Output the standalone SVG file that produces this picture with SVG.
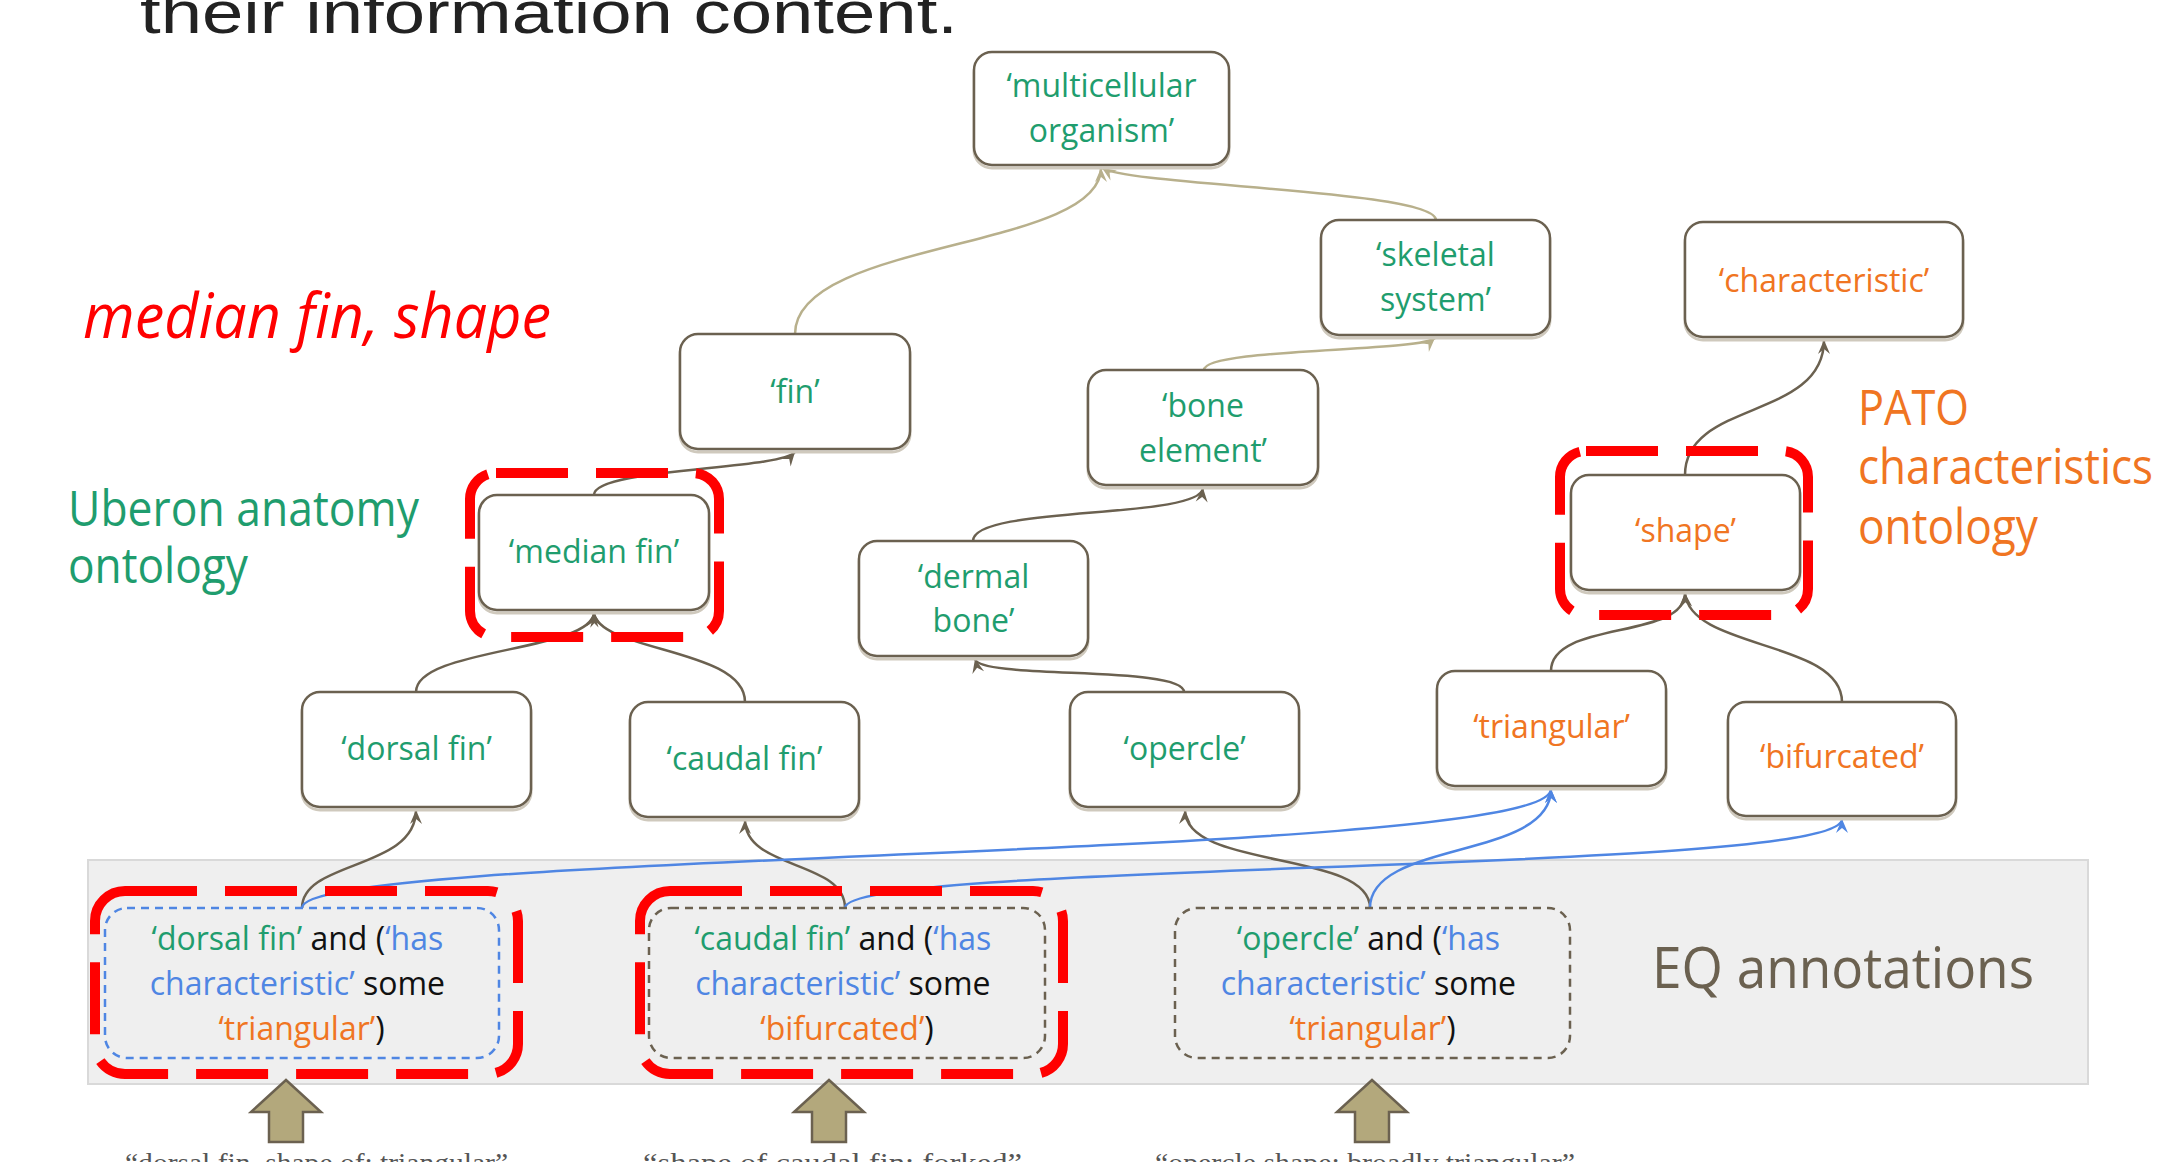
<svg xmlns="http://www.w3.org/2000/svg" width="2158" height="1162" viewBox="0 0 2158 1162">
  <defs>
    <style>
      .lbl { font-family: "Open Sans", "Noto Sans", sans-serif; font-size: 32px; text-anchor: middle; }
      .node rect.box { fill: #ffffff; stroke: #6b6150; stroke-width: 2.5; }
      .node rect.sh { fill: none; stroke: #cfc9bd; stroke-width: 3; }
      .g { fill: #1f9d6e; }
      .o { fill: #f07522; }
      .b { fill: #4f86e3; }
      .k { fill: #111111; }
      .conn path { fill: none; stroke-width: 2.5; }
      .khaki { stroke: #b8b08c; }
      .dark { stroke: #6b6150; }
      .blue { stroke: #4f86e3; }
      .hl { fill: none; stroke: #ff0000; stroke-width: 10; stroke-dasharray: 72 28; }
      .eq { fill: none; stroke-width: 2.5; stroke-dasharray: 8 6; }
      .big { font-family: "Open Sans", "Noto Sans", sans-serif; }
      .quote { font-family: "Liberation Serif", "DejaVu Serif", serif; font-size: 28px; fill: #555555; }
      .block { fill: #b3a87c; stroke: #6b6150; stroke-width: 2.5; }
    </style>
    <marker id="ah-khaki" viewBox="-15 -7 16 14" refX="0" refY="0" markerWidth="16" markerHeight="14" markerUnits="userSpaceOnUse" orient="auto">
      <path d="M0,0 L-14,-6 L-9,0 L-14,6 Z" fill="#b8b08c"/>
    </marker>
    <marker id="ah-dark" viewBox="-15 -7 16 14" refX="0" refY="0" markerWidth="16" markerHeight="14" markerUnits="userSpaceOnUse" orient="auto">
      <path d="M0,0 L-14,-6 L-9,0 L-14,6 Z" fill="#6b6150"/>
    </marker>
    <marker id="ah-blue" viewBox="-15 -7 16 14" refX="0" refY="0" markerWidth="16" markerHeight="14" markerUnits="userSpaceOnUse" orient="auto">
      <path d="M0,0 L-14,-6 L-9,0 L-14,6 Z" fill="#4f86e3"/>
    </marker>
  </defs>

  <rect width="2158" height="1162" fill="#ffffff"/>

  <!-- heading line, partly above the top edge -->
  <text x="140" y="33" font-family="Liberation Sans, Arial, sans-serif" font-size="60" fill="#222222" textLength="818" lengthAdjust="spacingAndGlyphs">their information content.</text>

  <!-- EQ annotation band -->
  <rect id="eq-band" x="88" y="860" width="2000" height="224" fill="#efefef" stroke="#d9d9d9" stroke-width="2"/>

  <!-- side labels -->
  <text class="big" x="83" y="338" font-size="62" font-style="italic" fill="#ff0000" textLength="468" lengthAdjust="spacingAndGlyphs">median fin, shape</text>
  <text class="big g" font-size="50">
    <tspan x="68" y="526" textLength="351" lengthAdjust="spacingAndGlyphs">Uberon anatomy</tspan>
    <tspan x="68" y="583" textLength="180" lengthAdjust="spacingAndGlyphs">ontology</tspan>
  </text>
  <text class="big o" font-size="49">
    <tspan x="1858" y="425" textLength="111" lengthAdjust="spacingAndGlyphs">PATO</tspan>
    <tspan x="1858" y="484" textLength="295" lengthAdjust="spacingAndGlyphs">characteristics</tspan>
    <tspan x="1858" y="544" textLength="180" lengthAdjust="spacingAndGlyphs">ontology</tspan>
  </text>
  <text class="big" x="1652" y="988" font-size="56" fill="#6b6150" textLength="382" lengthAdjust="spacingAndGlyphs">EQ annotations</text>

  <!-- connectors -->
  <g id="connectors" class="conn">
    <path class="khaki" marker-end="url(#ah-khaki)" d="M795,334 C795,240 1101,250 1101,168"/>
    <path class="khaki" marker-end="url(#ah-khaki)" d="M1436,220 C1436,190 1130,186 1102,168"/>
    <path class="khaki" marker-end="url(#ah-khaki)" d="M1204,370 C1204,348 1420,352 1435,338"/>
    <path class="dark" marker-end="url(#ah-dark)" d="M594,495 C594,468 780,470 795,452"/>
    <path class="dark" marker-end="url(#ah-dark)" d="M416,692 C416,648 590,652 594,613"/>
    <path class="dark" marker-end="url(#ah-dark)" d="M745,702 C745,648 600,652 594,613"/>
    <path class="dark" marker-end="url(#ah-dark)" d="M973,541 C973,505 1200,520 1203,488"/>
    <path class="dark" marker-end="url(#ah-dark)" d="M1184,692 C1184,665 980,680 975,659"/>
    <path class="dark" marker-end="url(#ah-dark)" d="M1685,475 C1685,400 1824,420 1824,340"/>
    <path class="dark" marker-end="url(#ah-dark)" d="M1551,671 C1551,620 1685,640 1685,593"/>
    <path class="dark" marker-end="url(#ah-dark)" d="M1842,702 C1842,640 1690,650 1685,593"/>
    <path class="dark" marker-end="url(#ah-dark)" d="M302,908 C302,860 416,870 416,810"/>
    <path class="dark" marker-end="url(#ah-dark)" d="M845,908 C845,860 745,870 745,820"/>
    <path class="dark" marker-end="url(#ah-dark)" d="M1370,908 C1370,850 1185,870 1185,810"/>
    <path class="blue" marker-end="url(#ah-blue)" d="M302,908 C302,850 1551,860 1551,789"/>
    <path class="blue" marker-end="url(#ah-blue)" d="M845,908 C845,860 1842,875 1842,819"/>
    <path class="blue" marker-end="url(#ah-blue)" d="M1370,908 C1370,840 1551,860 1551,789"/>
  </g>

  <!-- anatomy and quality terms -->
  <g id="n-multicellular" class="node">
    <rect class="sh" x="974" y="55" width="255" height="113" rx="18"/>
    <rect class="box" x="974" y="52" width="255" height="113" rx="18"/>
    <text class="lbl g"><tspan x="1101.5" y="97">‘multicellular</tspan><tspan x="1101.5" y="142">organism’</tspan></text>
  </g>
  <g id="n-skeletal" class="node">
    <rect class="sh" x="1321" y="223" width="229" height="115" rx="18"/>
    <rect class="box" x="1321" y="220" width="229" height="115" rx="18"/>
    <text class="lbl g"><tspan x="1435.5" y="266">‘skeletal</tspan><tspan x="1435.5" y="311">system’</tspan></text>
  </g>
  <g id="n-characteristic" class="node">
    <rect class="sh" x="1685" y="225" width="278" height="115" rx="18"/>
    <rect class="box" x="1685" y="222" width="278" height="115" rx="18"/>
    <text class="lbl o" x="1824" y="292">‘characteristic’</text>
  </g>
  <g id="n-fin" class="node">
    <rect class="sh" x="680" y="337" width="230" height="115" rx="18"/>
    <rect class="box" x="680" y="334" width="230" height="115" rx="18"/>
    <text class="lbl g" x="795" y="403">‘fin’</text>
  </g>
  <g id="n-bone-element" class="node">
    <rect class="sh" x="1088" y="373" width="230" height="115" rx="18"/>
    <rect class="box" x="1088" y="370" width="230" height="115" rx="18"/>
    <text class="lbl g"><tspan x="1203" y="417">‘bone</tspan><tspan x="1203" y="462">element’</tspan></text>
  </g>
  <g id="n-median-fin" class="node">
    <rect class="sh" x="479" y="498" width="230" height="115" rx="18"/>
    <rect class="box" x="479" y="495" width="230" height="115" rx="18"/>
    <text class="lbl g" x="594" y="563">‘median fin’</text>
  </g>
  <g id="n-dermal-bone" class="node">
    <rect class="sh" x="859" y="544" width="229" height="115" rx="18"/>
    <rect class="box" x="859" y="541" width="229" height="115" rx="18"/>
    <text class="lbl g"><tspan x="973.5" y="588">‘dermal</tspan><tspan x="973.5" y="632">bone’</tspan></text>
  </g>
  <g id="n-shape" class="node">
    <rect class="sh" x="1571" y="478" width="229" height="115" rx="18"/>
    <rect class="box" x="1571" y="475" width="229" height="115" rx="18"/>
    <text class="lbl o" x="1685.5" y="542">‘shape’</text>
  </g>
  <g id="n-dorsal-fin" class="node">
    <rect class="sh" x="302" y="695" width="229" height="115" rx="18"/>
    <rect class="box" x="302" y="692" width="229" height="115" rx="18"/>
    <text class="lbl g" x="416.5" y="760">‘dorsal fin’</text>
  </g>
  <g id="n-caudal-fin" class="node">
    <rect class="sh" x="630" y="705" width="229" height="115" rx="18"/>
    <rect class="box" x="630" y="702" width="229" height="115" rx="18"/>
    <text class="lbl g" x="744.5" y="770">‘caudal fin’</text>
  </g>
  <g id="n-opercle" class="node">
    <rect class="sh" x="1070" y="695" width="229" height="115" rx="18"/>
    <rect class="box" x="1070" y="692" width="229" height="115" rx="18"/>
    <text class="lbl g" x="1184.5" y="760">‘opercle’</text>
  </g>
  <g id="n-triangular" class="node">
    <rect class="sh" x="1437" y="674" width="229" height="115" rx="18"/>
    <rect class="box" x="1437" y="671" width="229" height="115" rx="18"/>
    <text class="lbl o" x="1551.5" y="738">‘triangular’</text>
  </g>
  <g id="n-bifurcated" class="node">
    <rect class="sh" x="1728" y="705" width="228" height="114" rx="18"/>
    <rect class="box" x="1728" y="702" width="228" height="114" rx="18"/>
    <text class="lbl o" x="1842" y="768">‘bifurcated’</text>
  </g>

  <!-- EQ annotations -->
  <g id="eq-dorsal" class="node">
    <rect class="eq" x="105" y="908" width="394" height="150" rx="22" stroke="#4f86e3"/>
    <text class="lbl">
      <tspan x="301.5" y="950"><tspan class="g">‘dorsal fin’</tspan><tspan class="k"> and (</tspan><tspan class="b">‘has</tspan></tspan>
      <tspan x="301.5" y="995"><tspan class="b">characteristic’</tspan><tspan class="k"> some</tspan></tspan>
      <tspan x="301.5" y="1040"><tspan class="o">‘triangular’</tspan><tspan class="k">)</tspan></tspan>
    </text>
  </g>
  <g id="eq-caudal" class="node">
    <rect class="eq" x="649" y="908" width="396" height="150" rx="22" stroke="#6b6150"/>
    <text class="lbl">
      <tspan x="847" y="950"><tspan class="g">‘caudal fin’</tspan><tspan class="k"> and (</tspan><tspan class="b">‘has</tspan></tspan>
      <tspan x="847" y="995"><tspan class="b">characteristic’</tspan><tspan class="k"> some</tspan></tspan>
      <tspan x="847" y="1040"><tspan class="o">‘bifurcated’</tspan><tspan class="k">)</tspan></tspan>
    </text>
  </g>
  <g id="eq-opercle" class="node">
    <rect class="eq" x="1175" y="908" width="395" height="150" rx="22" stroke="#6b6150"/>
    <text class="lbl">
      <tspan x="1372.5" y="950"><tspan class="g">‘opercle’</tspan><tspan class="k"> and (</tspan><tspan class="b">‘has</tspan></tspan>
      <tspan x="1372.5" y="995"><tspan class="b">characteristic’</tspan><tspan class="k"> some</tspan></tspan>
      <tspan x="1372.5" y="1040"><tspan class="o">‘triangular’</tspan><tspan class="k">)</tspan></tspan>
    </text>
  </g>

  <!-- red highlight frames -->
  <g id="highlights">
    <rect class="hl" x="470" y="473" width="249" height="164" rx="26"/>
    <rect class="hl" x="1560" y="451" width="248" height="164" rx="26"/>
    <rect class="hl" x="95" y="891" width="423" height="183" rx="30"/>
    <rect class="hl" x="640" y="891" width="423" height="183" rx="30"/>
  </g>

  <!-- block arrows from free-text descriptions -->
  <g id="source-arrows">
    <path class="block" d="M286,1080 L321,1112 L303,1112 L303,1142 L269,1142 L269,1112 L251,1112 Z"/>
    <path class="block" d="M829,1080 L864,1112 L846,1112 L846,1142 L812,1142 L812,1112 L794,1112 Z"/>
    <path class="block" d="M1372,1080 L1407,1112 L1389,1112 L1389,1142 L1355,1142 L1355,1112 L1337,1112 Z"/>
  </g>

  <!-- free-text descriptions, running off the bottom edge -->
  <text class="quote" x="125" y="1172" textLength="383" lengthAdjust="spacingAndGlyphs">“dorsal fin, shape of: triangular”</text>
  <text class="quote" x="643" y="1172" textLength="379" lengthAdjust="spacingAndGlyphs">“shape of caudal fin: forked”</text>
  <text class="quote" x="1155" y="1172" textLength="420" lengthAdjust="spacingAndGlyphs">“opercle shape: broadly triangular”</text>
</svg>
